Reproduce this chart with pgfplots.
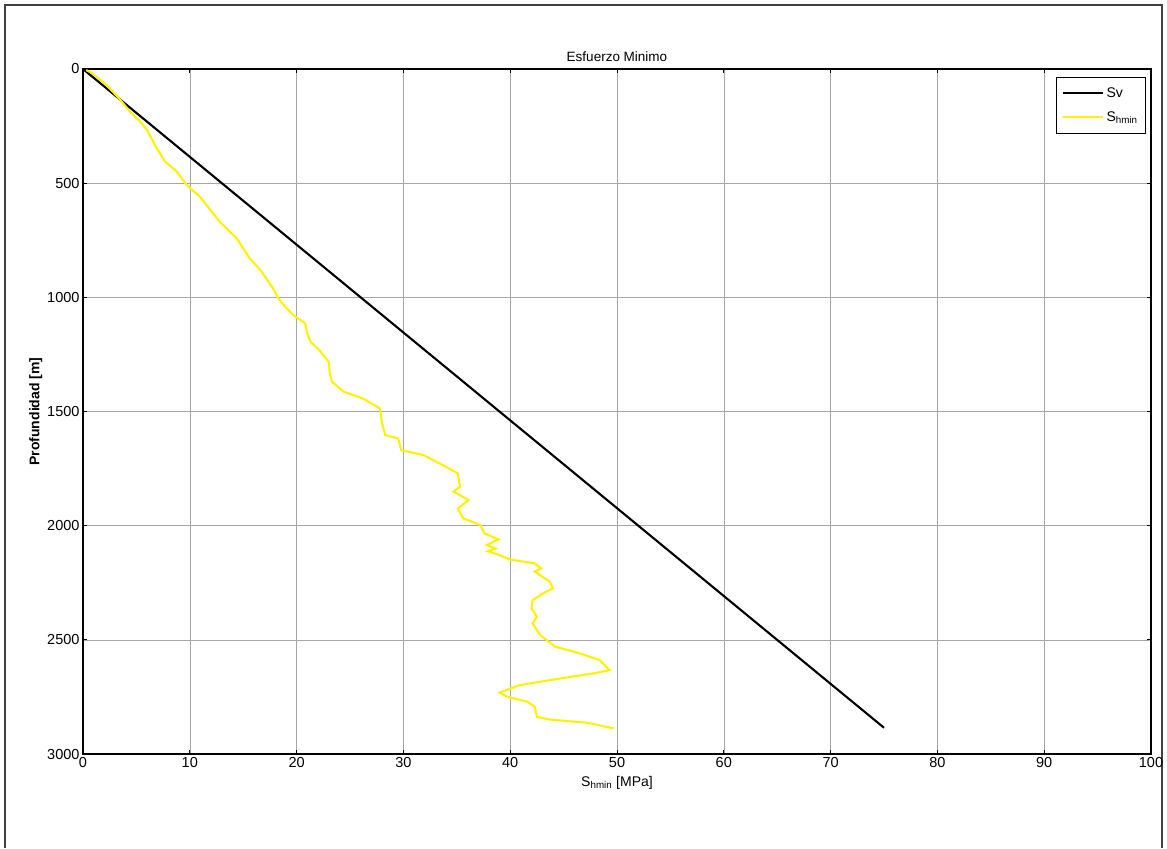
\documentclass[border=0pt]{standalone}
\usepackage{fontspec}
\setmainfont{Liberation Sans}
\usepackage{pgfplots}
\pgfplotsset{compat=1.18}
\begin{document}
\begin{tikzpicture}[x=1pt,y=1pt]
\path (0,0) rectangle (1167,848);
\draw[line width=1.8pt, black!75] (5,0) -- (5,843) -- (1162,843) -- (1162,0);
\begin{axis}[
  at={(83pt,94pt)}, anchor=south west,
  scale only axis, width=1068pt, height=685pt,
  xmin=0, xmax=100, ymin=0, ymax=3000,
  y dir=reverse,
  enlargelimits=false,
  xtick={0,10,...,100}, ytick={0,500,...,3000},
  grid=major,
  grid style={gray!70, line width=0.6pt},
  tick align=inside, major tick length=4pt,
  tick style={black, line width=0.8pt},
  axis line style={black, line width=1.4pt},
  /pgf/number format/assume math mode=true,
  ticklabel style={font=\fontsize{14.5}{16}\selectfont},
  scaled y ticks=false,
  yticklabel style={/pgf/number format/.cd, fixed, 1000 sep={}},
  title={Esfuerzo Minimo},
  title style={font=\fontsize{13.5}{15}\selectfont, yshift=-2pt},
  xlabel={S\textsubscript{hmin} [MPa]},
  xlabel style={font=\fontsize{14}{16}\selectfont, yshift=-2pt},
  ylabel={\bfseries Profundidad [m]},
  ylabel style={font=\fontsize{14}{16}\selectfont, yshift=-2pt},
  legend style={at={(1,1)}, anchor=north east, xshift=-5pt, yshift=-8pt,
    draw=black, line width=0.8pt, fill=white, font=\fontsize{14}{16}\selectfont,
    inner xsep=6pt, inner ysep=8pt, row sep=9pt, cells={anchor=west}},
  legend image code/.code={\draw[#1] (0pt,0pt) -- (40pt,0pt);},
]
\addplot[black, line width=2.1pt] coordinates {(0,0) (75,2885)};
\addlegendentry{Sv}
\addplot[yellow, line width=2.1pt] coordinates {
(0.3,5) (0.8,16) (2.2,70) (3.4,130) (4.4,187) (5.3,228) (6.0,267) (6.9,347) (7.7,406) (8.8,450)
(9.7,508) (10.95,559) (11.8,610) (12.8,669) (14.4,742) (15.0,785) (15.6,829) (16.6,880) (17.2,920) (17.8,961)
(18.3,1005) (19.0,1045) (19.7,1078) (20.8,1114) (21.0,1160) (21.3,1194) (22.2,1235) (23.0,1282)
(23.1,1330) (23.3,1369) (24.4,1413) (26.2,1443) (27.8,1486) (28.0,1552) (28.3,1603)
(29.5,1618) (29.8,1669) (31.9,1691) (33.7,1735) (35.1,1771) (35.3,1829)
(34.7,1851) (36.1,1888) (35.1,1925) (35.6,1968) (37.2,1997) (37.6,2034)
(38.9,2060) (37.8,2085) (38.6,2100) (37.9,2112) (39.0,2129) (40.0,2148) (42.3,2165)
(42.9,2187) (42.3,2201) (43.7,2245) (44.0,2275) (43.1,2296) (42.1,2326)
(42.0,2362) (42.5,2398) (42.1,2428) (42.8,2479) (44.2,2530) (46.5,2559)
(48.4,2589) (49.3,2633) (47.8,2647) (44.7,2669) (40.9,2698) (39.0,2731)
(39.7,2749) (41.6,2771) (42.3,2793) (42.5,2837) (43.7,2849) (47.2,2863)
(49.7,2888)};
\addlegendentry{S\textsubscript{hmin}}
\end{axis}
\end{tikzpicture}
\end{document}
